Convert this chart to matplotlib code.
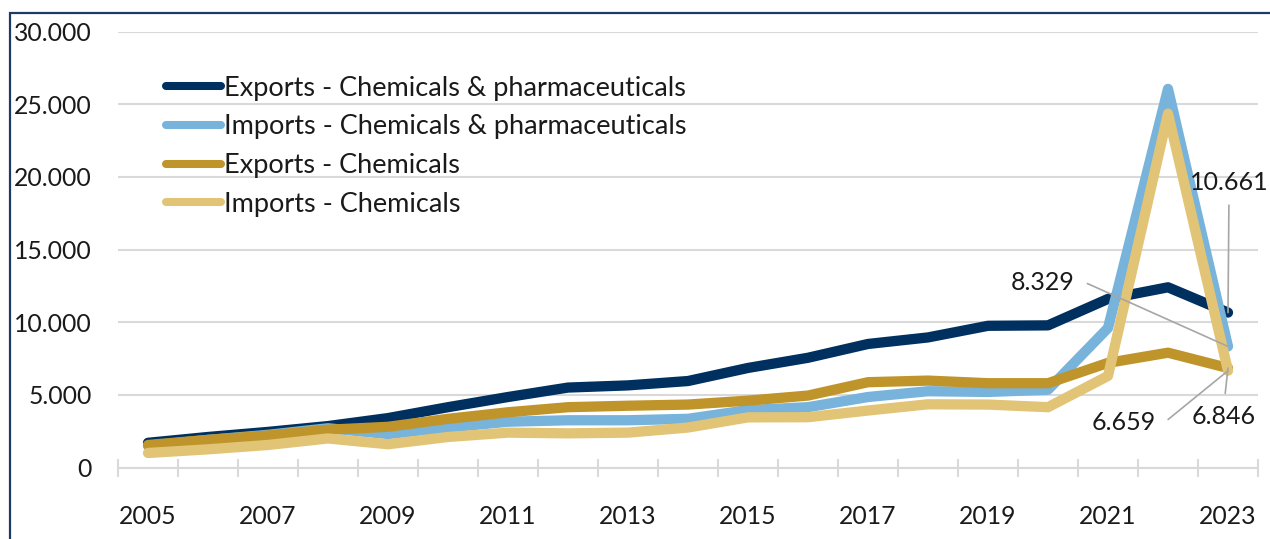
import matplotlib
matplotlib.use('Agg')
import matplotlib.pyplot as plt
from matplotlib.ticker import FuncFormatter, FixedLocator
from matplotlib.patches import Rectangle

plt.rcParams['font.family'] = ['Lato', 'DejaVu Sans']

years = list(range(2005, 2024))
exp_chem_pharma = [1700, 2100, 2450, 2850, 3400, 4150, 4850, 5500, 5650, 5950,
                   6850, 7550, 8500, 8950, 9750, 9780, 11600, 12400, 10661]
imp_chem_pharma = [1500, 1900, 2250, 2700, 2300, 2750, 3150, 3250, 3250, 3350,
                   3950, 4150, 4850, 5250, 5200, 5350, 9600, 26050, 8329]
exp_chem = [1550, 1900, 2200, 2600, 2800, 3350, 3800, 4150, 4250, 4330,
            4600, 4950, 5870, 5980, 5800, 5800, 7200, 7900, 6846]
imp_chem = [1000, 1250, 1550, 2000, 1600, 2100, 2400, 2350, 2400, 2750,
            3450, 3460, 3920, 4350, 4330, 4150, 6300, 24350, 6659]

labels = ['Exports - Chemicals & pharmaceuticals',
          'Imports - Chemicals & pharmaceuticals',
          'Exports - Chemicals',
          'Imports - Chemicals']
colors = ['#00305F', '#77B3DA', '#BF942A', '#E2C477']
series = [exp_chem_pharma, imp_chem_pharma, exp_chem, imp_chem]
label_years = list(range(2005, 2024, 2))
annot_text = ['10.661', '8.329', '6.846', '6.659']

W, H = 1270, 539
fig = plt.figure(figsize=(W / 100, H / 100), dpi=100)
ax = fig.add_axes([118 / W, 1 - 467.5 / H, 1140 / W, 436 / H])

for vals, col, lab in zip(series, colors, labels):
    ax.plot(years, vals, color=col, lw=7.4, solid_capstyle='round',
            solid_joinstyle='round', label=lab, zorder=3)

ax.set_xlim(2004.5, 2023.5)
ax.set_ylim(0, 30000)
ax.set_yticks(range(0, 30001, 5000))
ax.yaxis.set_major_formatter(FuncFormatter(lambda v, p: f"{v:,.0f}".replace(',', '.')))
ax.grid(axis='y', color='#D9D9D9', lw=1.5, zorder=0)
ax.tick_params(axis='y', length=0, pad=19, labelsize=17.8, labelcolor='#1a1a1a')

ax.xaxis.set_major_locator(FixedLocator([y - 0.5 for y in years] + [2023.5]))
ax.xaxis.set_major_formatter(FuncFormatter(lambda v, p: ''))
ax.xaxis.set_minor_locator(FixedLocator(label_years))
ax.xaxis.set_minor_formatter(FuncFormatter(lambda v, p: f"{int(round(v))}"))
ax.tick_params(axis='x', which='major', direction='inout', length=13.5,
               width=1.5, color='#D9D9D9')
ax.tick_params(axis='x', which='minor', length=0, pad=27, labelsize=17.8,
               labelcolor='#1a1a1a')

for s in ['top', 'right', 'left']:
    ax.spines[s].set_visible(False)
ax.spines['bottom'].set_color('#D9D9D9')
ax.spines['bottom'].set_linewidth(1.5)

leg = ax.legend(loc='upper left', bbox_to_anchor=(0.042, 0.899), frameon=False,
                fontsize=19.5, handlelength=2.04, handletextpad=0.12,
                labelspacing=0.51, borderpad=0, borderaxespad=0)
for h in leg.get_lines():
    h.set_linewidth(5.8)
    h.set_solid_capstyle('round')
for t in leg.get_texts():
    t.set_color('#1a1a1a')

lc = '#A6A6A6'
afs = 18
ax.annotate(annot_text[0], xy=(years[-1], exp_chem_pharma[-1]), xytext=(1, 130),
            textcoords='offset pixels', ha='center', va='center', fontsize=afs,
            color='#1a1a1a',
            arrowprops=dict(arrowstyle='-', color=lc, lw=1.2, shrinkA=6, shrinkB=0,
                            relpos=(0.5, 0)))
ax.annotate(annot_text[1], xy=(years[-1], imp_chem_pharma[-1]), xytext=(-185, 64),
            textcoords='offset pixels', ha='center', va='center', fontsize=afs,
            color='#1a1a1a',
            arrowprops=dict(arrowstyle='-', color=lc, lw=1.2, shrinkA=7, shrinkB=0,
                            relpos=(1, 0.5),
                            connectionstyle='arc,angleA=0,armA=10,angleB=0,armB=0,rad=0'))
ax.annotate(annot_text[3], xy=(years[-1], imp_chem[-1]), xytext=(-104, -52),
            textcoords='offset pixels', ha='center', va='center', fontsize=afs,
            color='#1a1a1a',
            arrowprops=dict(arrowstyle='-', color=lc, lw=1.2, shrinkA=7, shrinkB=0,
                            relpos=(1, 0.5),
                            connectionstyle='arc,angleA=0,armA=8,angleB=0,armB=0,rad=0'))
ax.annotate(annot_text[2], xy=(years[-1], exp_chem[-1]), xytext=(-4, -48),
            textcoords='offset pixels', ha='center', va='center', fontsize=afs,
            color='#1a1a1a',
            arrowprops=dict(arrowstyle='-', color=lc, lw=1.2, shrinkA=6, shrinkB=0,
                            relpos=(0.5, 1)))

fig.patches.append(Rectangle((10 / W, -0.2), 1.2, 1.2 - 12.5 / H,
                             transform=fig.transFigure, fill=False,
                             edgecolor='#1F3A68', lw=1.6, zorder=10))

fig.savefig('out.png', dpi=100)
